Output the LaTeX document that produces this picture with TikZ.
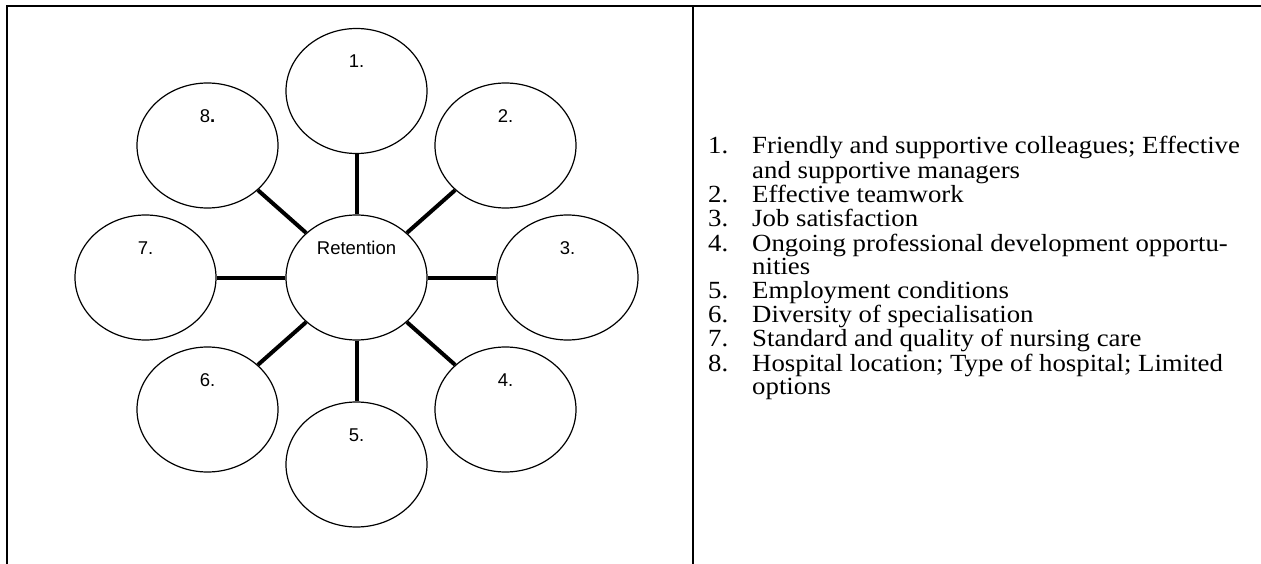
\documentclass[tikz,border=0pt]{standalone}
\usepackage{fontspec}
\usepackage{graphicx}
\setmainfont{Liberation Serif}
\newfontfamily\arialfont{Liberation Sans}
\usetikzlibrary{shapes.geometric}
\tikzset{
  frameline/.style={line width=2pt, draw=black},
  bubble/.style={ellipse, draw=black, line width=1.2pt, minimum width=141pt, minimum height=125pt, inner sep=0pt},
  bubbletext/.style={font=\arialfont\fontsize{18.5}{22}\selectfont, inner sep=0pt},
  spoke/.style={line width=4pt, draw=black},
  listtext/.style={font=\fontsize{26.8}{25.2}\selectfont, inner sep=0pt, anchor=base west}
}
\begin{document}
\begin{tikzpicture}[x=1pt, y=-1pt]
\useasboundingbox (0,0) rectangle (1261,564);
% frame
\draw[frameline] (7,564) -- (7,6) -- (1261,6);
\draw[frameline] (693,6) -- (693,564);
% bubbles
\node[bubble] (c)  at (356.5,277.5) {};
\node[bubble] (e1) at (356.5,91) {};
\node[bubble] (e2) at (505.5,145.5) {};
\node[bubble] (e3) at (567.5,277.5) {};
\node[bubble] (e4) at (505.5,409.5) {};
\node[bubble] (e5) at (356.5,464.5) {};
\node[bubble] (e6) at (207.5,409.5) {};
\node[bubble] (e7) at (145.5,277.5) {};
\node[bubble] (e8) at (207.5,145.5) {};
% labels
\node[bubbletext] (tc) at ([yshift=30pt]c.center) {Retention};
\node[bubbletext] (t1) at ([yshift=30pt]e1.center) {1.};
\node[bubbletext] (t2) at ([yshift=29pt]e2.center) {2.};
\node[bubbletext] (t3) at ([yshift=29pt]e3.center) {3.};
\node[bubbletext] (t4) at ([yshift=29pt]e4.center) {4.};
\node[bubbletext] (t5) at ([yshift=29pt]e5.center) {5.};
\node[bubbletext] (t6) at ([yshift=29pt]e6.center) {6.};
\node[bubbletext] (t7) at ([yshift=29pt]e7.center) {7.};
\node[bubbletext] (t8) at ([yshift=29pt]e8.center) {8\textbf{.}};
% spokes
\foreach \i in {1,...,8}{\draw[spoke] (c) -- (e\i);}
% list
\node[listtext] (list) at (708,154) {\scalebox{1}[0.92]{%
\begin{tabular}[t]{@{}p{44pt}@{}l@{}}
1. & Friendly and supportive colleagues; Effective\\
   & and supportive managers\\
2. & Effective teamwork\\
3. & Job satisfaction\\
4. & Ongoing professional development opportu-\\
   & nities\\
5. & Employment conditions\\
6. & Diversity of specialisation\\
7. & Standard and quality of nursing care\\
8. & Hospital location; Type of hospital; Limited\\
   & options
\end{tabular}}};
\end{tikzpicture}
\end{document}
